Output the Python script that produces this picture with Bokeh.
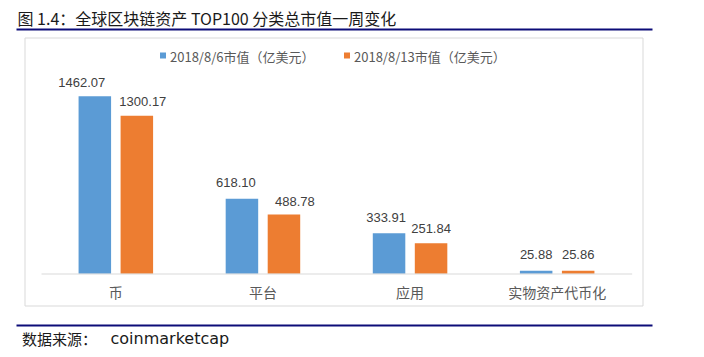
from bokeh.plotting import figure
from bokeh.models import ColumnDataSource, Range1d, FactorRange
from bokeh.transform import dodge
from bokeh.core.properties import value
from bokeh.embed import file_html
from bokeh.resources import INLINE

# ---- data ----
categories = ["币", "平台", "应用", "实物资产代币化"]
series_names = ["2018/8/6市值（亿美元）", "2018/8/13市值（亿美元）"]
values_0806 = [1462.07, 618.10, 333.91, 25.88]
values_0813 = [1300.17, 488.78, 251.84, 25.86]
title_text = "图 1.4：全球区块链资产 TOP100 分类总市值一周变化"
source_label = "数据来源："
source_name = "coinmarketcap"

# ---- styles ----
BLUE = "#5B9BD5"
ORANGE = "#ED7D31"
NAVY = "#0C0C78"
GRID = "#D9D9D9"
CJK = value("Noto Sans CJK SC")
NUM = value("Liberation Sans Narrow, Liberation Sans")

# label nudges in pixels (as placed in the original)
dx_0806 = [-13, -6, -3, 0]
dx_0813 = [6, 11, 0, 0]
dy_0806 = [-14, -16, -16, -16]
dy_0813 = [-14, -13, -15, -16]

W, H = 672, 352
PADPCT = 0.142
OFF = 0.1428
BAR_W = 0.221

# page-pixel -> synthetic categorical coordinate (for decorations only)
SPAN = len(categories) * (1 + PADPCT)
UNIT = W / SPAN
PAD = len(categories) * PADPCT / 2
def sx(px):
    return -PAD + px / UNIT

src = ColumnDataSource(dict(
    cat=categories,
    v1=values_0806,
    v2=values_0813,
    l1=[f"{v:.2f}" for v in values_0806],
    l2=[f"{v:.2f}" for v in values_0813],
    dx1=dx_0806, dx2=dx_0813, dy1=dy_0806, dy2=dy_0813,
))

x_cat = FactorRange(*categories, range_padding=PADPCT, range_padding_units="percent")
p = figure(width=W, height=H, x_range=x_cat, y_range=Range1d(-647.7, 2249.4),
           output_backend="svg", toolbar_location=None, tools="",
           x_axis_location=None, y_axis_location=None, min_border=0)
p.grid.visible = False
p.outline_line_color = None
p.background_fill_color = "white"
p.border_fill_color = "white"
p.extra_y_ranges = {"px": Range1d(H, 0)}
PX = dict(y_range_name="px")

# chart box
p.quad(left=[sx(24.5)], right=[sx(642.5)], top=[37.5], bottom=[305.5], fill_color=None,
       line_color=GRID, line_width=1, **PX)

# bars
p.vbar(x=dodge("cat", -OFF, range=p.x_range), top="v1", bottom=0, width=BAR_W,
       source=src, fill_color=BLUE, line_color=None)
p.vbar(x=dodge("cat", OFF, range=p.x_range), top="v2", bottom=0, width=BAR_W,
       source=src, fill_color=ORANGE, line_color=None)

# baseline
p.segment(x0=[sx(41)], x1=[sx(631.7)], y0=[273.5], y1=[273.5], line_color=GRID, line_width=1, **PX)

# value labels
p.text(x=dodge("cat", -OFF, range=p.x_range), y="v1", text="l1", x_offset="dx1", y_offset="dy1",
       source=src, text_align="center", text_baseline="middle", text_font=NUM,
       text_font_size="13px", text_color="#404040")
p.text(x=dodge("cat", OFF, range=p.x_range), y="v2", text="l2", x_offset="dx2", y_offset="dy2",
       source=src, text_align="center", text_baseline="middle", text_font=NUM,
       text_font_size="13px", text_color="#404040")

# category labels
p.text(x=categories, y=[291.5] * len(categories), text=categories,
       text_align="center", text_baseline="middle", text_font=CJK,
       text_font_size="14px", text_color="#595959", **PX)

# legend
p.scatter(x=[sx(162.5), sx(346.5)], y=[55, 55], marker="square", size=6,
          fill_color=[BLUE, ORANGE], line_color=None, **PX)
p.text(x=[sx(169.5), sx(353.5)], y=[56, 56], text=series_names, text_align="left",
       text_baseline="middle", text_font=CJK, text_font_size="13px",
       text_color="#595959", **PX)

# title and rules
p.text(x=[sx(17)], y=[17.5], text=[title_text], text_align="left", text_baseline="middle",
       text_font=CJK, text_font_size="16px", text_color="#1a1a1a", **PX)
p.segment(x0=[sx(16), sx(16)], x1=[sx(652), sx(652)], y0=[29, 325], y1=[29, 325],
          line_color=NAVY, line_width=2, **PX)

# source
p.text(x=[sx(21.5)], y=[338], text=[source_label], text_align="left", text_baseline="middle",
       text_font=CJK, text_font_size="15px", text_color="#1a1a1a", **PX)
p.text(x=[sx(110)], y=[338], text=[source_name], text_align="left", text_baseline="middle",
       text_font=value("DejaVu Sans"), text_font_size="16px", text_color="#1a1a1a", **PX)

open("out.html", "w").write(file_html(p, INLINE))
